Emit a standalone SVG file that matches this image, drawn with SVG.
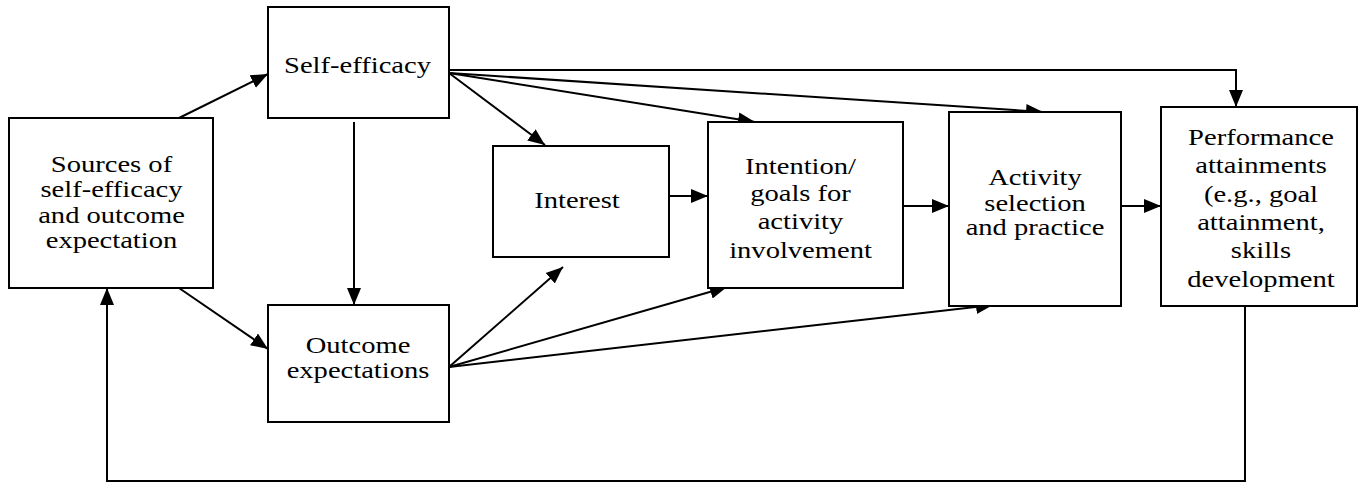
<svg xmlns="http://www.w3.org/2000/svg" width="1363" height="484" viewBox="0 0 1363 484">
<style>
.box{fill:#fff;stroke:#000;stroke-width:2}
.lbl{font-family:'Liberation Serif','Times New Roman',serif;font-size:24px;fill:#000;text-anchor:middle}
.con{fill:none;stroke:#000;stroke-width:2;marker-end:url(#ah)}
</style>
<defs>
<marker id="ah" markerUnits="userSpaceOnUse" markerWidth="18" markerHeight="16" refX="17" refY="8" orient="auto" viewBox="0 0 18 16">
<path d="M0,1 L17,8 L0,15 z" fill="#000"/>
</marker>
</defs>
<rect width="1363" height="484" fill="#fff"/>
<g id="connectors">
<path class="con" d="M179,118 L268,74"/>
<path class="con" d="M179,288 L268,349"/>
<path class="con" d="M354,122 L354,305"/>
<path class="con" d="M449,73 L545,145"/>
<path class="con" d="M449,73 L755,122"/>
<path class="con" d="M449,73 L1043,112"/>
<path class="con" d="M449,70 L1236,70 L1236,107"/>
<path class="con" d="M669,196 L708,196"/>
<path class="con" d="M449,367 L563,267"/>
<path class="con" d="M449,367 L727,287"/>
<path class="con" d="M449,367 L993,305"/>
<path class="con" d="M903,206 L949,206"/>
<path class="con" d="M1121,206 L1161,206"/>
<path class="con" d="M1245,306 L1245,481 L107,481 L107,288"/>
</g>
<g id="sources">
<rect class="box" x="9" y="118" width="204" height="170"/>
<g transform="translate(111.5 0) scale(1.19 1)">
<text class="lbl" x="0" y="172">Sources of</text>
<text class="lbl" x="0" y="197">self-efficacy</text>
<text class="lbl" x="0" y="223">and outcome</text>
<text class="lbl" x="0" y="248">expectation</text>
</g>
</g>
<g id="self-efficacy">
<rect class="box" x="268" y="7" width="181" height="111"/>
<g transform="translate(357.5 0) scale(1.19 1)">
<text class="lbl" x="0" y="73">Self-efficacy</text>
</g>
</g>
<g id="outcome">
<rect class="box" x="268" y="305" width="181" height="117"/>
<g transform="translate(358 0) scale(1.19 1)">
<text class="lbl" x="0" y="353">Outcome</text>
<text class="lbl" x="0" y="378">expectations</text>
</g>
</g>
<g id="interest">
<rect class="box" x="493" y="146" width="176" height="111"/>
<g transform="translate(577 0) scale(1.19 1)">
<text class="lbl" x="0" y="208">Interest</text>
</g>
</g>
<g id="intention">
<rect class="box" x="708" y="122" width="195" height="166"/>
<g transform="translate(800.5 0) scale(1.19 1)">
<text class="lbl" x="0" y="174">Intention/</text>
<text class="lbl" x="0" y="201">goals for</text>
<text class="lbl" x="0" y="229">activity</text>
<text class="lbl" x="0" y="258">involvement</text>
</g>
</g>
<g id="activity">
<rect class="box" x="949" y="112" width="172" height="194"/>
<g transform="translate(1035 0) scale(1.19 1)">
<text class="lbl" x="0" y="185">Activity</text>
<text class="lbl" x="0" y="211">selection</text>
<text class="lbl" x="0" y="235">and practice</text>
</g>
</g>
<g id="performance">
<rect class="box" x="1161" y="107" width="196" height="199"/>
<g transform="translate(1261 0) scale(1.19 1)">
<text class="lbl" x="0" y="145">Performance</text>
<text class="lbl" x="0" y="173">attainments</text>
<text class="lbl" x="0" y="202">(e.g., goal</text>
<text class="lbl" x="0" y="230">attainment,</text>
<text class="lbl" x="0" y="258">skills</text>
<text class="lbl" x="0" y="287">development</text>
</g>
</g>
</svg>
